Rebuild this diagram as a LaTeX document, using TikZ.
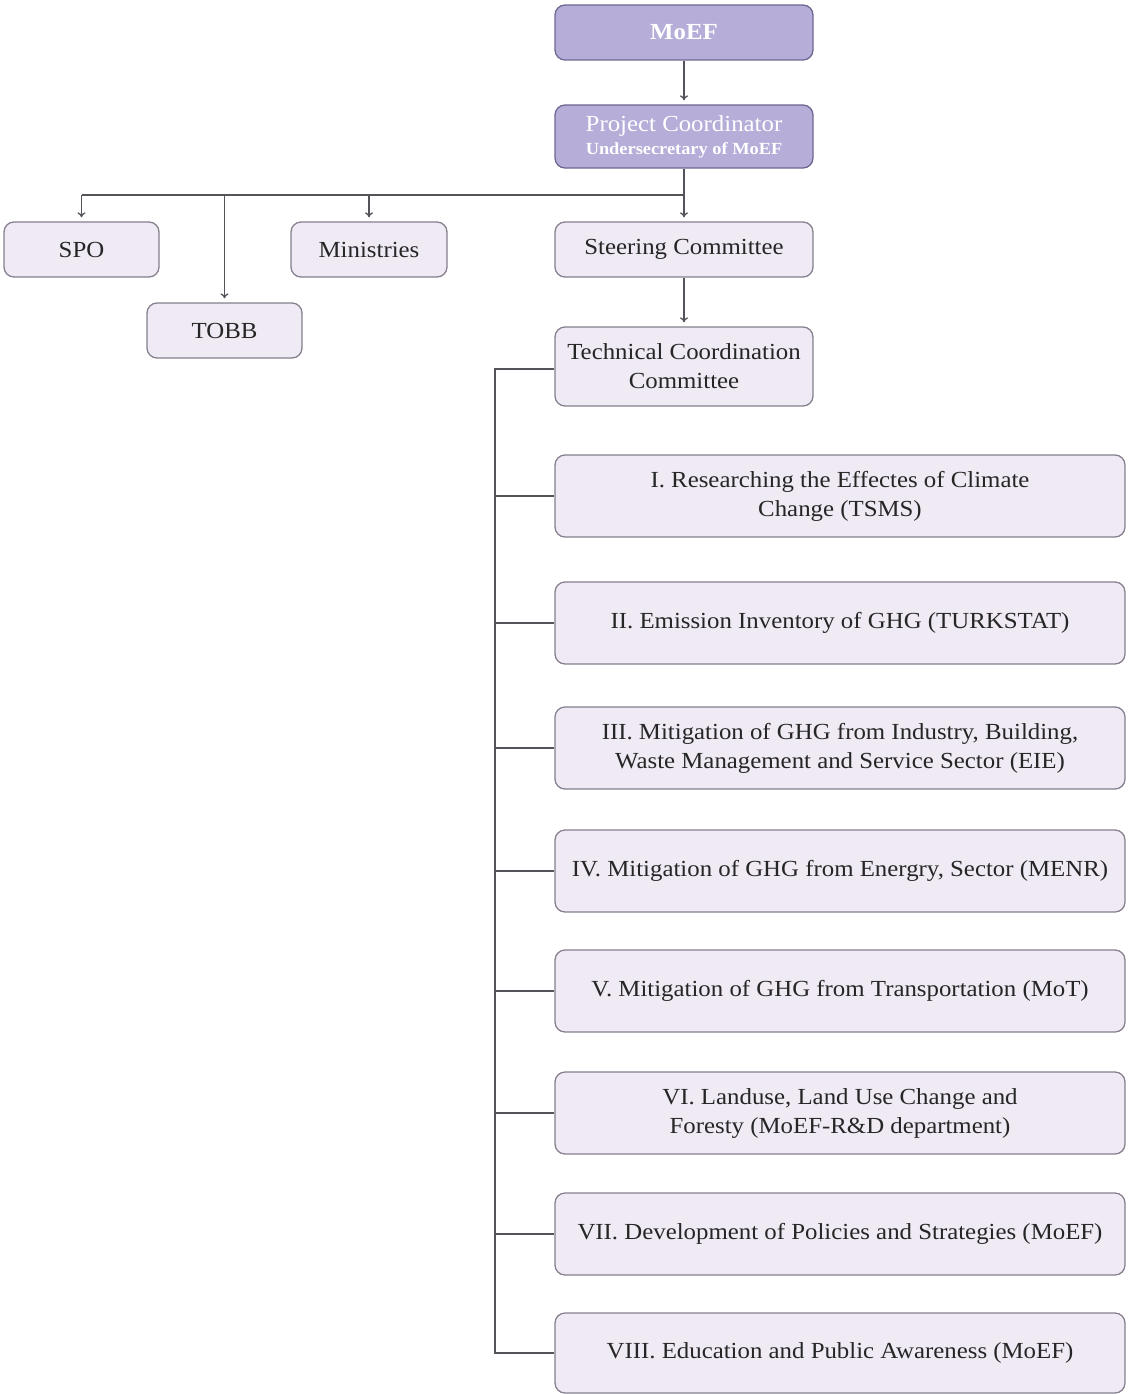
\documentclass[tikz,border=0pt]{standalone}
\usepackage{fontspec}
\setmainfont{Liberation Serif}[FakeStretch=1.08]
\usetikzlibrary{arrows.meta}
\definecolor{darkfill}{HTML}{B6AED9}
\definecolor{darkdraw}{HTML}{6E6790}
\definecolor{lightfill}{HTML}{EFEAF4}
\definecolor{lightdraw}{HTML}{86808F}
\definecolor{linecol}{HTML}{555259}
\begin{document}
\begin{tikzpicture}[x=1pt,y=-1pt,
  basebox/.style={rounded corners=10pt, line width=1.3pt, inner sep=0pt, align=center,
    font=\fontsize{23}{29}\selectfont},
  darkbox/.style={basebox, fill=darkfill, draw=darkdraw, text=white},
  lightbox/.style={basebox, fill=lightfill, draw=lightdraw, text=black!85},
  conn/.style={draw=linecol, line width=1.3pt},
  arr/.style={conn, -{To[length=5pt,width=8pt]}, shorten >=4pt},
]
\useasboundingbox (0,0) rectangle (1127,1394);
% top boxes
\node[darkbox, minimum width=258pt, minimum height=55pt] (moef) at (684,32.5) {\bfseries MoEF};
\node[darkbox, minimum width=258pt, minimum height=63pt] (pc) at (684,136.5)
  {Project Coordinator\\[-6pt]{\bfseries\fontsize{17}{20}\selectfont Undersecretary of MoEF}};
\node[lightbox, minimum width=155pt, minimum height=55pt] (spo) at (81.5,249.5) {SPO};
\node[lightbox, minimum width=156pt, minimum height=55pt] (min) at (369,249.5) {Ministries};
\node[lightbox, minimum width=258pt, minimum height=55pt] (sc) at (684,249.5) {Steering Committee};
\node[lightbox, minimum width=155pt, minimum height=55pt] (tobb) at (224.5,330.5) {TOBB};
\node[lightbox, minimum width=258pt, minimum height=79pt] (tcc) at (684,366.5) {Technical Coordination\\Committee};
% working groups
\node[lightbox, minimum width=570pt, minimum height=82pt] (b1) at (840,496) {I. Researching the Effectes of Climate\\Change (TSMS)};
\node[lightbox, minimum width=570pt, minimum height=82pt] (b2) at (840,623) {II. Emission Inventory of GHG (TURKSTAT)};
\node[lightbox, minimum width=570pt, minimum height=82pt] (b3) at (840,748) {III. Mitigation of GHG from Industry, Building,\\Waste Management and Service Sector (EIE)};
\node[lightbox, minimum width=570pt, minimum height=82pt] (b4) at (840,871) {IV. Mitigation of GHG from Energry, Sector (MENR)};
\node[lightbox, minimum width=570pt, minimum height=82pt] (b5) at (840,991) {V. Mitigation of GHG from Transportation (MoT)};
\node[lightbox, minimum width=570pt, minimum height=82pt] (b6) at (840,1113) {VI. Landuse, Land Use Change and\\Foresty (MoEF-R\&D department)};
\node[lightbox, minimum width=570pt, minimum height=82pt] (b7) at (840,1234) {VII. Development of Policies and Strategies (MoEF)};
\node[lightbox, minimum width=570pt, minimum height=80pt] (b8) at (840,1353) {VIII. Education and Public Awareness (MoEF)};
% connectors
\draw[arr] (moef) -- (pc);
\draw[arr] (pc) -- (sc);
\coordinate (bus) at (684,195);
\draw[conn] (bus) -- (spo.north |- bus);
\draw[arr] (spo.north |- bus) -- (spo.north);
\draw[arr] (min.north |- bus) -- (min.north);
\draw[arr] (tobb.north |- bus) -- (tobb.north);
\draw[arr] (sc) -- (tcc);
\coordinate (trunk) at (495,369);
\draw[conn] (tcc.west |- trunk) -- (trunk) -- (trunk |- b8.west) -- (b8.west);
\foreach \b in {b1,b2,b3,b4,b5,b6,b7}{
  \draw[conn] (trunk |- \b.west) -- (\b.west);
}
\end{tikzpicture}
\end{document}
